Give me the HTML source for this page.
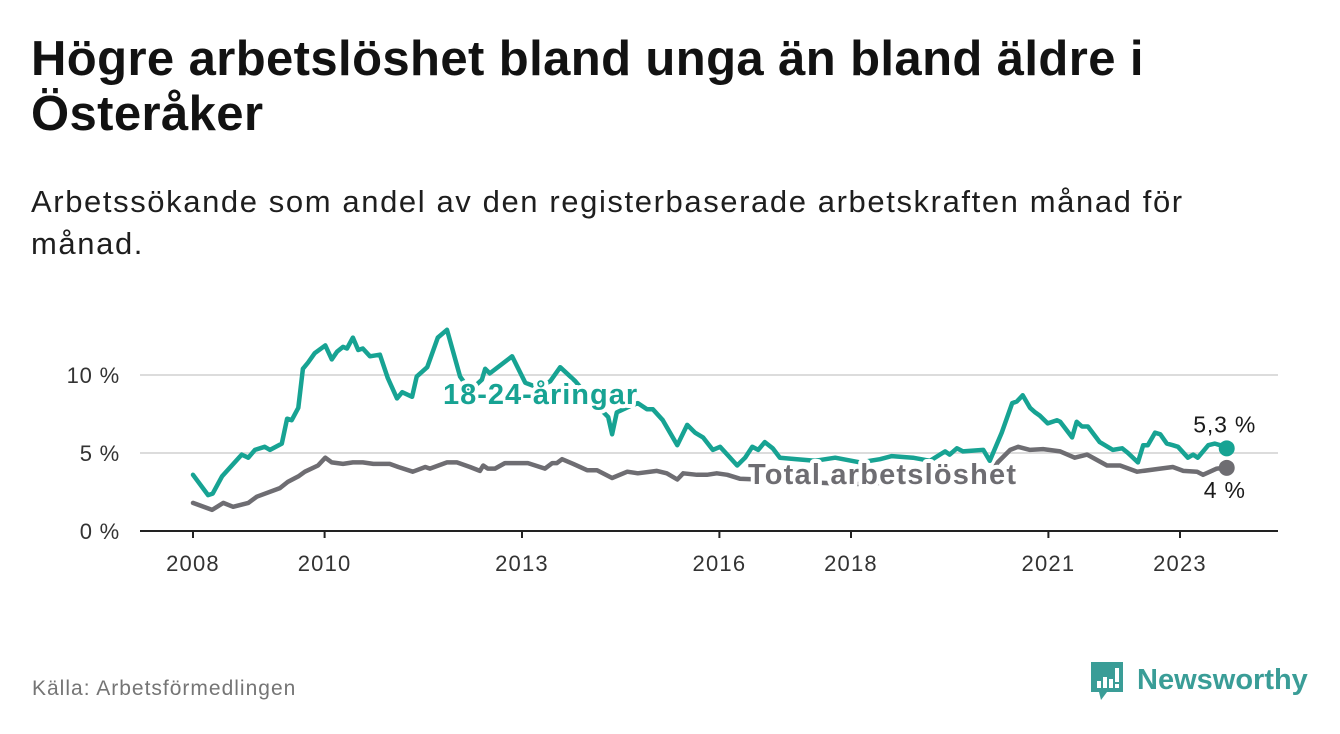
<!DOCTYPE html>
<html><head><meta charset="utf-8">
<style>
html,body{margin:0;padding:0;background:#fff;}
body{width:1340px;height:734px;position:relative;overflow:hidden;font-family:"Liberation Sans",sans-serif;}
#title{position:absolute;left:31px;top:32px;font-size:49px;font-weight:bold;color:#121212;line-height:55px;width:1300px;letter-spacing:0.4px;}
#subtitle{position:absolute;left:31px;top:181px;font-size:31px;color:#1e1e1e;line-height:42px;width:1300px;letter-spacing:1.6px;}
#source{position:absolute;left:32px;top:677px;font-size:21px;color:#757575;letter-spacing:1px;}
#logo{position:absolute;left:1089px;top:660px;}
#chart{position:absolute;left:0;top:0;}
</style></head>
<body>
<div id="title">Högre arbetslöshet bland unga än bland äldre i<br>Österåker</div>
<div id="subtitle">Arbetssökande som andel av den registerbaserade arbetskraften månad för<br>månad.</div>
<svg id="chart" width="1340" height="734"></svg>
<div id="source">Källa: Arbetsförmedlingen</div>
<svg id="logo" width="220" height="46">
  <path d="M2 2 H34 V32 H18 L12 40 L10 32 H2 Z" fill="#3a9d97"/>
  <rect x="8" y="21" width="4" height="7" fill="#fff"/>
  <rect x="14" y="17" width="4" height="11" fill="#fff"/>
  <rect x="20" y="19" width="4" height="9" fill="#fff"/>
  <rect x="26" y="8" width="4" height="14" fill="#fff"/>
  <rect x="26" y="24" width="4" height="4" fill="#fff"/>
  <text x="48" y="29" font-family="Liberation Sans, sans-serif" font-weight="bold" font-size="29" fill="#3a9d97">Newsworthy</text>
</svg>
<script>
const youthT=[0,.23,.30,.44,.74,.84,.94,1.09,1.17,1.35,1.43,1.50,1.60,1.67,1.75,1.85,2.01,2.11,2.19,2.28,2.34,2.43,2.51,2.58,2.69,2.84,2.96,3.10,3.18,3.33,3.40,3.56,3.72,3.86,4.06,4.21,4.39,4.44,4.51,4.85,5.05,5.24,5.43,5.58,5.81,6.03,6.31,6.37,6.44,6.64,6.76,6.90,6.99,7.14,7.36,7.51,7.63,7.75,7.90,8.01,8.12,8.27,8.39,8.50,8.59,8.69,8.81,8.92,9.18,9.45,9.76,10.14,10.44,10.62,10.94,11.20,11.43,11.50,11.61,11.70,12.01,12.11,12.29,12.45,12.52,12.61,12.72,12.80,12.87,12.99,13.13,13.18,13.36,13.43,13.51,13.60,13.78,13.98,14.12,14.21,14.36,14.44,14.51,14.62,14.70,14.80,14.89,14.97,15.12,15.20,15.27,15.43,15.53,15.61,15.71];
const youthV=[3.6,2.3,2.4,3.5,4.9,4.7,5.2,5.4,5.2,5.6,7.2,7.1,7.9,10.4,10.8,11.4,11.9,11.0,11.5,11.8,11.7,12.4,11.6,11.7,11.2,11.3,9.8,8.5,8.9,8.6,9.9,10.5,12.4,12.9,9.9,9.0,9.7,10.4,10.1,11.2,9.5,9.2,9.6,10.5,9.6,8.5,7.3,6.2,7.6,8.0,8.2,7.8,7.8,7.1,5.5,6.8,6.3,6.0,5.2,5.4,4.9,4.2,4.7,5.4,5.2,5.7,5.3,4.7,4.6,4.5,4.7,4.4,4.6,4.8,4.7,4.5,5.1,4.9,5.3,5.1,5.2,4.5,6.3,8.2,8.3,8.7,7.9,7.6,7.4,6.9,7.1,7.0,6.0,7.0,6.7,6.7,5.7,5.2,5.3,5.0,4.4,5.5,5.5,6.3,6.2,5.6,5.5,5.4,4.7,4.9,4.7,5.5,5.6,5.5,5.3];
const totalT=[0,.29,.46,.61,.84,.97,1.32,1.44,1.60,1.70,1.90,2.01,2.11,2.28,2.43,2.58,2.74,2.99,3.12,3.34,3.53,3.60,3.86,4.01,4.21,4.36,4.41,4.48,4.59,4.74,5.09,5.35,5.46,5.53,5.61,5.78,5.99,6.14,6.37,6.60,6.76,7.05,7.20,7.36,7.45,7.66,7.81,7.96,8.12,8.31,8.6,9.0,9.5,10.0,10.5,11.0,11.5,12.0,12.12,12.23,12.42,12.54,12.72,12.92,13.18,13.40,13.59,13.89,14.09,14.35,14.70,14.89,15.05,15.26,15.35,15.56,15.71];
const totalV=[1.8,1.35,1.8,1.55,1.8,2.2,2.75,3.15,3.5,3.8,4.2,4.7,4.4,4.3,4.4,4.4,4.3,4.3,4.1,3.8,4.1,4.0,4.4,4.4,4.1,3.85,4.2,4.0,4.0,4.35,4.35,4.0,4.35,4.35,4.6,4.3,3.9,3.9,3.4,3.8,3.7,3.85,3.7,3.3,3.7,3.6,3.6,3.7,3.6,3.35,3.3,3.2,3.1,3.0,3.1,3.2,3.3,3.5,3.6,4.4,5.2,5.4,5.2,5.25,5.1,4.7,4.9,4.2,4.2,3.8,4.0,4.1,3.85,3.8,3.6,4.0,4.05];
const yTicks=[0,5,10];
const yTickLabels=["0 %","5 %","10 %"];
const xTicks=[2008,2010,2013,2016,2018,2021,2023];
const youthLast="5,3 %";
const totalLast="4 %";

const NS="http://www.w3.org/2000/svg";
const svg=document.getElementById('chart');
const x0=193, pxYear=65.8, y0=531, pxPct=15.6;
function sx(year){return x0+(year-2008)*pxYear;}
function sy(v){return y0-v*pxPct;}
function mk(tag,attrs,parent){const e=document.createElementNS(NS,tag);for(const k in attrs)e.setAttribute(k,attrs[k]);(parent||svg).appendChild(e);return e;}

yTicks.forEach((v,i)=>{
  if(v>0){const g=mk('line',{x1:140,x2:1278,y1:sy(v),y2:sy(v),stroke:'#dcdcdc','stroke-width':2});
  
  }
  const t=mk('text',{x:120,y:sy(v)+8,'text-anchor':'end','font-size':22,'letter-spacing':0.8,fill:'#333','font-family':'Liberation Sans, sans-serif'});
  t.textContent=yTickLabels[i];
  
  
});
const ax=mk('line',{x1:140,x2:1278,y1:y0,y2:y0,stroke:'#222','stroke-width':2});


xTicks.forEach(yr=>{
  const tk=mk('line',{x1:sx(yr),x2:sx(yr),y1:y0,y2:y0+7,stroke:'#222','stroke-width':2});
  
  
  const t=mk('text',{x:sx(yr),y:571,'text-anchor':'middle','font-size':22,'letter-spacing':1.2,fill:'#333','font-family':'Liberation Sans, sans-serif'});
  t.textContent=yr;
  
  
});
function line(T,V,color,name){
  const d=T.map((t,i)=>(i?'L':'M')+sx(2008+t).toFixed(1)+' '+sy(V[i]).toFixed(1)).join(' ');
  const p=mk('path',{d:d,fill:'none',stroke:color,'stroke-width':4.5,'stroke-linejoin':'round','stroke-linecap':'round'});
  
  
  const n=T.length-1;
  const c=mk('circle',{cx:sx(2008+T[n]),cy:sy(V[n]),r:8,fill:color});
  
  
}
const teal='#17a393', gray='#6e6d72';
line(totalT,totalV,gray,'total-line');
line(youthT,youthV,teal,'youth-line');
function label(txt,x,y,color,name,size,bold,anchor,ls){
  const t=mk('text',{x:x,y:y,'text-anchor':anchor||'start','font-size':size,'letter-spacing':ls||0,'font-weight':bold?'bold':'normal',fill:color,stroke:'#fff','stroke-width':bold?8:6,'paint-order':'stroke','stroke-linejoin':'round','font-family':'Liberation Sans, sans-serif'});
  t.textContent=txt;
  
  
}
label('18-24-åringar',443,404,teal,'youth-series-label',29,true,'start',1);
label('Total arbetslöshet',748,484,gray,'total-series-label',29,true,'start',1.2);
const n1=youthT.length-1, n2=totalT.length-1;
label(youthLast,sx(2008+youthT[n1])-2,sy(youthV[n1])-16,'#1a1a1a','youth-end-value',23,false,'middle',0.8);
label(totalLast,sx(2008+totalT[n2])-2,sy(totalV[n2])+30,'#1a1a1a','total-end-value',23,false,'middle',0.8);
</script>
</body></html>
